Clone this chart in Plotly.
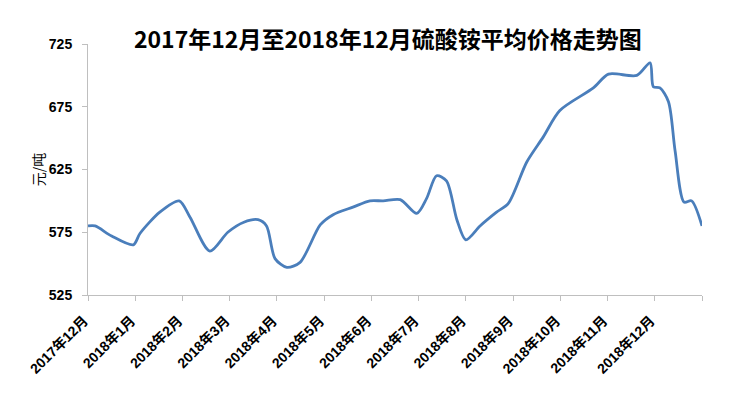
import plotly.graph_objects as go

# month position (0 = 2017年12月) and price (元/吨)
month_pos = [0, 0.15, 0.5, 0.96, 1.10, 1.52, 1.93, 2.16, 2.58, 2.96, 3.3, 3.6, 3.78,
             3.96, 4.21, 4.49, 4.92, 5.19, 5.61, 5.97, 6.25, 6.61, 6.96, 7.17, 7.38,
             7.59, 7.81, 8.00, 8.30, 8.65, 8.90, 9.29, 9.64, 9.99, 10.70, 11.02, 11.62,
             11.90, 11.97, 12.11, 12.29, 12.43, 12.62, 12.78, 13.00]
price = [580, 580, 572, 565, 574, 591, 600, 587, 560, 575, 583, 585, 580,
         554, 547, 551, 581, 589, 595, 600, 600, 601, 590, 602, 620,
         616, 585, 569, 580, 591, 598, 631, 651, 672, 690, 701, 700,
         710, 691, 690, 679, 640, 599, 600, 580]

tick_labels = ["2017年12月", "2018年1月", "2018年2月", "2018年3月", "2018年4月", "2018年5月",
               "2018年6月", "2018年7月", "2018年8月", "2018年9月", "2018年10月", "2018年11月",
               "2018年12月", ""]
y_ticks = [525, 575, 625, 675, 725]

FONT = "Liberation Sans, Noto Sans CJK SC, sans-serif"

fig = go.Figure()
fig.add_trace(go.Scatter(
    x=month_pos, y=price, mode="lines",
    line=dict(color="#4A7EBB", width=2.8, shape="spline", smoothing=0.8),
    showlegend=False, hoverinfo="skip"))

fig.update_layout(
    width=732, height=398,
    margin=dict(l=80, r=38, t=36, b=111),
    paper_bgcolor="white", plot_bgcolor="white",
    title=dict(text="<b>2017年12月至2018年12月硫酸铵平均价格走势图</b>",
               x=0.519, xanchor="center", y=0.92, yanchor="middle",
               font=dict(family="Noto Sans CJK SC, sans-serif", size=23, color="black")),
    xaxis=dict(range=[0, 13], tickvals=list(range(14)), ticktext=tick_labels,
               tickangle=-45, showgrid=False, zeroline=False,
               showline=True, linecolor="#BFBFBF", linewidth=1,
               ticks="outside", ticklen=5, tickcolor="#BFBFBF",
               ticklabelstandoff=6, ticklabelshift=-4,
               tickfont=dict(family=FONT, size=14, color="black", weight="bold")),
    yaxis=dict(range=[525, 725], tickvals=y_ticks, showgrid=False, zeroline=False,
               showline=True, linecolor="#BFBFBF", linewidth=1,
               ticks="outside", ticklen=5, tickcolor="#BFBFBF", ticklabelstandoff=7,
               tickfont=dict(family=FONT, size=14, color="black", weight="bold"),
               title=dict(text="元/吨", standoff=0,
                          font=dict(family="Noto Sans CJK SC, sans-serif", size=14, color="black"))),
)

fig.write_html("out.html")
